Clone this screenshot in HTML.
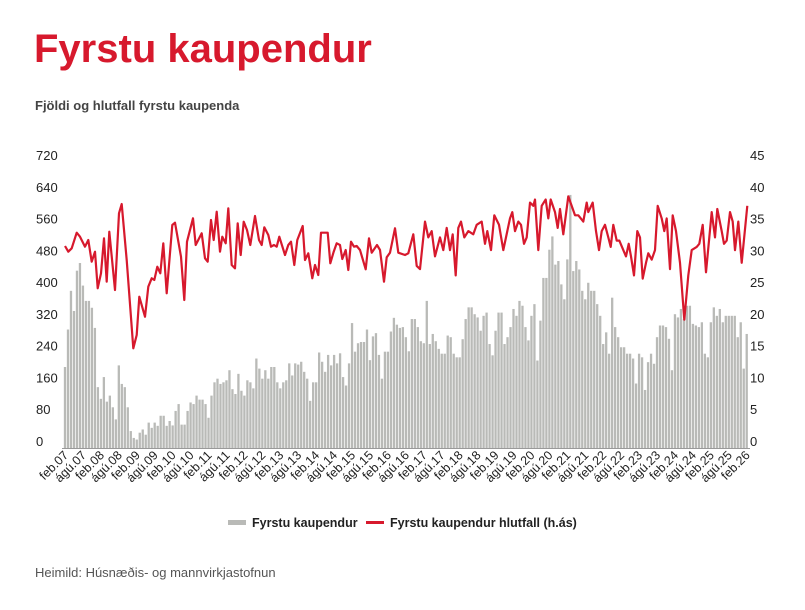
<!DOCTYPE html>
<html><head><meta charset="utf-8"><style>
body{margin:0;background:#fff;width:805px;height:605px;overflow:hidden;font-family:"Liberation Sans",sans-serif}
</style></head><body>
<svg id="s" width="805" height="605" xmlns="http://www.w3.org/2000/svg" font-family="Liberation Sans, sans-serif">
<text x="34" y="62" font-size="40" font-weight="bold" fill="#d7192d">Fyrstu kaupendur</text>
<text x="35" y="110" font-size="13" font-weight="bold" fill="#444">Fjöldi og hlutfall fyrstu kaupenda</text>
<text x="35" y="577" font-size="13" fill="#555">Heimild: Húsnæðis- og mannvirkjastofnun</text>
<rect x="228" y="520" width="18" height="5" fill="#b9bab7"/>
<text x="252" y="527" font-size="12.5" font-weight="bold" fill="#222">Fyrstu kaupendur</text>
<line x1="366" y1="522.5" x2="384" y2="522.5" stroke="#d7192d" stroke-width="3"/>
<text x="390" y="527" font-size="12.5" font-weight="bold" fill="#222">Fyrstu kaupendur hlutfall (h.ás)</text>
<g id="g"></g>
</svg>
<script>
var g=document.getElementById('g'),h='';
var T=155,L=441,B=448,X0=65,DX=2.99,N=229;
for(var k=0;k<=9;k++){var v=k*80,y=L-(L-T)*v/720;
h+='<text x="36" y="'+(y+5)+'" font-size="13" fill="#222">'+v+'</text>';
h+='<text x="750" y="'+(y+5)+'" font-size="13" fill="#222">'+(k*5)+'</text>';}
var b1=[[30,191],[38,284],[47,380],[55,330],[65,430],[73,449],[82,393],[92,355],[100,355],[110,338],[118,288],[127,141],[137,112],[146,166],[155,105],[164,120],[172,91],[182,61],[190,195],[200,149],[208,141],[217,91],[226,32],[235,15],[245,11],[253,28],[262,36],[270,23],[280,53],[288,40],[298,53],[307,45],[316,70],[325,70],[334,45],[342,57],[352,46],[360,82],[370,99],[378,48],[388,48],[397,82],[406,103],[415,99],[424,120],[433,110],[442,110],[450,99],[460,65],[470,120],[478,153],[487,162],[496,149],[505,153],[514,158],[522,183],[530,136],[540,124],[548,174],[557,132],[566,120],[574,158],[584,153],[592,138],[601,212],[610,187],[620,162],[628,183],[637,162],[646,191],[655,191],[663,153],[672,138],[680,153],[690,158],[698,166],[707,200],[716,170],[724,200],[733,197],[742,204],[752,179],[760,162],[770,107],[779,153],[788,227],[797,204],[806,254],[814,179],[823,221],[832,195],[842,221],[850,200],[860,225],[868,166],[877,145],[886,200],[895,300],[904,229],[913,250],[922,253],[932,284],[940,208],[950,267],[958,275],[967,275],[976,221],[985,162],[994,229],[1004,279],[1012,313],[1022,296],[1030,288],[1040,267]];
var b2=[[0,300],[10,300],[20,275],[30,240],[40,320],[50,300],[60,265],[65,225],[75,260],[85,365],[90,258],[100,283],[110,265],[120,246],[130,234],[140,279],[150,275],[155,300],[165,234],[175,225],[185,270],[195,320],[210,349],[220,332],[230,324],[240,291],[250,328],[260,336],[270,258],[280,230],[290,291],[300,336],[310,258],[320,275],[330,300],[340,345],[350,328],[360,365],[370,353],[375,300],[385,267],[395,328],[405,357],[415,217],[425,316],[435,422],[445,492],[452,455],[462,525],[470,455],[480,464],[487,406],[495,369],[505,468],[515,628],[522,439],[530,464],[540,443],[550,390],[558,369],[568,410],[578,390],[588,357],[598,328],[605,258],[615,287],[625,234],[638,373],[648,300],[658,275],[668,250],[678,234],[690,234],[700,222],[708,160],[718,234],[728,225],[738,144],[745,213],[755,234],[765,209],[775,275],[785,304],[795,300],[805,271],[815,193],[825,332],[835,324],[845,345],[855,320],[865,353],[875,308],[885,304],[895,300],[905,312],[915,234],[925,225],[935,312],[945,349],[953,328],[960,345],[970,312],[980,328],[990,328],[1000,328],[1015,275],[1022,312],[1032,197],[1042,283]];
var bars=[];
b1.forEach(function(p){bars.push([55+p[0]/3,p[1]+10]);});
b2.forEach(function(p){var x=400+p[0]/3;if(x>bars[bars.length-1][0])bars.push([x,p[1]]);});
for(var i=0;i<N;i++){var x=X0+i*DX,best=bars[0],bd=1e9;
bars.forEach(function(p){var d=Math.abs(p[0]-x);if(d<bd){bd=d;best=p;}});
var bh=best[1]*0.403;
h+='<rect x="'+(x-1.15).toFixed(2)+'" y="'+(B-bh).toFixed(2)+'" width="2.3" height="'+bh.toFixed(2)+'" fill="#b9bab7"/>';}
var l1=[[30,198],[40,215],[50,205],[65,158],[75,170],[90,200],[100,180],[110,245],[120,215],[128,325],[138,280],[147,175],[155,305],[163,155],[180,330],[192,100],[200,72],[215,240],[235,505],[245,465],[253,350],[270,410],[280,320],[290,295],[298,300],[307,260],[316,280],[325,190],[335,340],[352,135],[360,128],[378,230],[388,360],[396,185],[414,115],[422,195],[440,160],[450,235],[458,245],[468,120],[476,180],[485,95],[495,215],[502,170],[512,190],[520,85],[530,255],[540,265],[548,130],[557,225],[566,125],[576,150],[586,195],[600,108],[612,180],[620,195],[628,142],[640,165],[648,200],[657,195],[665,200],[673,170],[690,225],[700,195],[708,185],[718,255],[727,180],[743,138],[750,240],[760,220],[772,295],[780,255],[790,285],[798,158],[818,158],[826,250],[836,215],[845,190],[855,195],[862,237],[872,210],[880,270],[888,185],[897,200],[905,198],[915,210],[932,268],[942,175],[950,218],[966,195],[975,210],[987,305],[995,232],[1005,218],[1020,145],[1030,218],[1050,225]];
var l2=[[25,29.5],[40,32.5],[50,27.5],[60,27],[75,34.5],[85,32],[95,33],[105,29],[120,32],[130,30],[140,33.5],[150,30],[158,32.5],[167,26],[175,33.5],[183,34.5],[193,32],[205,33],[220,32.5],[230,34],[245,34.5],[255,31],[262,33],[273,30],[283,35.5],[297,34],[310,30],[330,35],[337,36],[345,33],[355,34.5],[363,34],[372,31],[380,32],[390,37.5],[400,37],[405,38],[415,30],[425,37],[437,38],[445,35],[452,38],[465,36],[473,33.5],[480,36.5],[490,32.5],[505,38.5],[525,35.5],[535,35.5],[550,34.5],[560,37.5],[565,36],[578,37.5],[588,33],[597,30],[605,33],[615,34],[625,32],[632,30.5],[640,34],[650,31.5],[658,31.5],[670,30],[678,29],[686,31],[693,29],[702,26],[712,33],[720,32],[728,25.5],[738,28],[745,29.5],[755,28.5],[765,30],[773,37],[785,35],[793,33],[800,35],[810,27],[818,35.5],[828,33],[840,28],[853,19],[865,26],[875,30],[890,30.5],[898,31],[908,34],[918,26.5],[935,36],[945,32],[952,36.5],[965,33],[972,31],[980,31.5],[990,36],[998,34.5],[1005,30],[1015,34.5],[1025,28],[1042,37]];
var pts='';
l1.forEach(function(p){pts+=(55+p[0]/3).toFixed(1)+','+(180+p[1]/3).toFixed(1)+' ';});
l2.forEach(function(p){pts+=(400+p[0]/3).toFixed(1)+','+(440-6.33*p[1]).toFixed(1)+' ';});
h+='<line x1="62" y1="'+(B+0.5)+'" x2="750" y2="'+(B+0.5)+'" stroke="#999" stroke-width="1"/>';
h+='<polyline points="'+pts+'" fill="none" stroke="#d7192d" stroke-width="2.2" stroke-linejoin="round"/>';
for(var k=0;k<=38;k++){var i=k*6,x=X0+i*DX+4,yr=7+Math.floor(k/2);
var lb=(k%2?'ágú.':'feb.')+(yr<10?'0':'')+yr;
h+='<text transform="translate('+x.toFixed(1)+',456) rotate(-45)" text-anchor="end" font-size="12.5" fill="#222">'+lb+'</text>';}
g.innerHTML=h;
</script>
</body></html>
